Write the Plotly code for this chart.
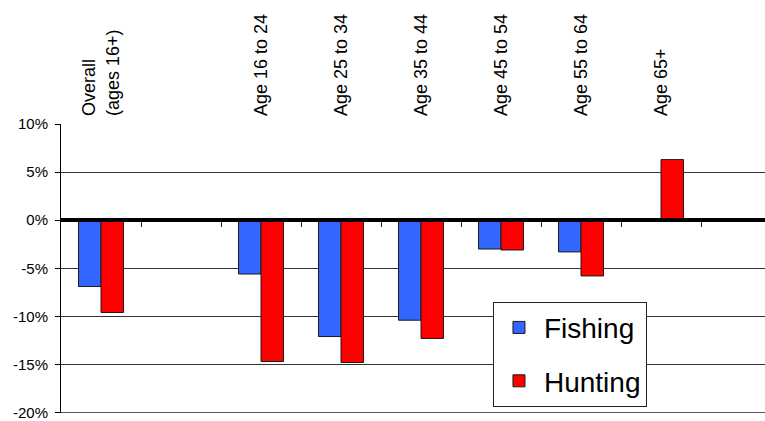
import plotly.graph_objects as go

# Change in participation rate by age group
categories = ["Overall<br>(ages 16+)", "Age 16 to 24", "Age 25 to 34",
              "Age 35 to 44", "Age 45 to 54", "Age 55 to 64", "Age 65+"]
fishing = [-6.9, -5.6, -12.1, -10.4, -3.0, -3.3, None]
hunting = [-9.6, -14.7, -14.8, -12.3, -3.1, -5.8, 6.3]

# axis order: a blank slot separates the overall figure from the age groups
axis_order = [categories[0], " "] + categories[1:]

y_ticks = [-20, -15, -10, -5, 0, 5, 10]
y_labels = [f"{v}%" for v in y_ticks]

FONT = "Arial, Liberation Sans, sans-serif"

fig = go.Figure()
fig.add_trace(go.Bar(
    x=categories, y=fishing, name="Fishing", legendgroup="f",
    marker=dict(color="#3366FF", line=dict(color="#1a1a1a", width=1)),
))
fig.add_trace(go.Bar(
    x=categories, y=hunting, name="Hunting", legendgroup="h",
    marker=dict(color="#FF0000", line=dict(color="#1a1a1a", width=1)),
))

n_slots = len(axis_order)
boundaries = [i + 0.5 for i in range(n_slots)]

fig.update_layout(
    width=765, height=421,
    margin=dict(l=61, r=0, t=124, b=6),
    paper_bgcolor="white", plot_bgcolor="white",
    barmode="group", bargap=0.4375, bargroupgap=0,
    font=dict(family=FONT, color="black"),
    showlegend=True,
    legend=dict(
        x=0.6136, y=0.385, xanchor="left", yanchor="top",
        bgcolor="white", bordercolor="#222", borderwidth=1,
        font=dict(size=28, family=FONT, color="black"),
        tracegroupgap=14, itemwidth=40,
    ),
    xaxis=dict(
        type="category", categoryorder="array", categoryarray=axis_order,
        range=[-0.5, n_slots + 0.3],
        side="top", tickangle=-90, ticks="",
        tickfont=dict(size=18, family=FONT),
        showgrid=False, showline=False, zeroline=False,
        ticklabelstandoff=7,
    ),
    # second x axis draws the heavy baseline with its tick marks at 0%
    xaxis2=dict(
        overlaying="x", anchor="free", position=2 / 3,
        range=[-0.5, n_slots + 0.3], side="bottom",
        tickmode="array", tickvals=boundaries, ticktext=[""] * n_slots,
        ticks="outside", ticklen=5, tickcolor="#222", tickwidth=1,
        showline=True, linecolor="black", linewidth=4,
        showgrid=False, zeroline=False,
    ),
    yaxis=dict(
        range=[-20.05, 10], tickmode="array", tickvals=y_ticks, ticktext=y_labels,
        tickfont=dict(size=15, family=FONT),
        showgrid=True, gridcolor="#333", gridwidth=1,
        showline=True, linecolor="black", linewidth=1,
        ticks="outside", ticklen=5, tickcolor="black",
        zeroline=False, ticklabelstandoff=4, ticklabeloverflow="allow",
    ),
)

# bottom grid line at the lowest tick
fig.add_hline(y=y_ticks[0], line=dict(color="#555", width=1), layer="below")

# invisible trace so the baseline axis is rendered
fig.add_trace(go.Scatter(x=[0], y=[0], xaxis="x2", mode="markers",
                         marker=dict(opacity=0), showlegend=False,
                         hoverinfo="skip"))

fig.write_html("out.html")
